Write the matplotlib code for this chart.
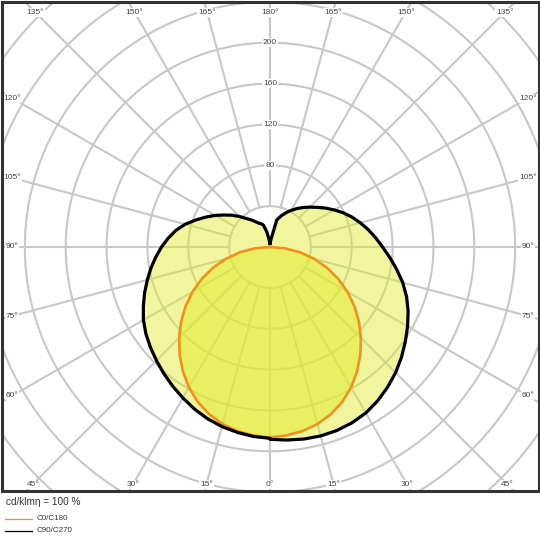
import numpy as np
import matplotlib
matplotlib.use('Agg')
import matplotlib.pyplot as plt
from matplotlib.lines import Line2D

plt.rcParams['font.family'] = ['Liberation Sans', 'DejaVu Sans']

# ---------------- data (cd/klm) ----------------
gamma_c0 = [0, 5, 10, 15, 20, 25, 30, 35, 40, 45, 50, 55, 60, 65, 70, 75, 80, 85, 90]
i_c0 = [186.5, 185.2, 183.0, 179.5, 174.2, 167.3, 158.8, 148.6, 137.6, 125.8, 113.6,
        100.8, 87.5, 73.6, 59.4, 44.8, 30.0, 15.0, 0]

gamma_c90 = [0, 5, 10, 15, 20, 25, 30, 35, 40, 45, 50, 55, 60, 65, 70, 75, 80, 85, 90,
             95, 100, 105, 110, 115, 120, 125, 130, 135, 140, 145, 150, 155, 160, 164,
             166, 168, 172, 180]
i_c90 = [188.3, 189.7, 190.9, 191.5, 191.2, 189.9, 187.6, 183.8, 179.1, 173.9, 168.0,
         161.7, 155.5, 149.2, 142.3, 134.5, 125.9, 117.7, 110.2, 103.8, 97.7, 91.5, 85.5,
         79.2, 72.6, 66.4, 60.4, 55.2, 50.5, 45.9, 41.4, 37.0, 32.6, 28.9, 27.2, 15.4,
         8.0, 3.6]

gamma_c270 = [0, 5, 10, 15, 20, 25, 30, 35, 40, 45, 50, 55, 60, 65, 70, 75, 80, 85, 90,
              95, 100, 105, 110, 115, 120, 125, 130, 135, 140, 145, 150, 155, 160, 163,
              168, 172, 180]
i_c270 = [187.3, 186.2, 184.3, 182.0, 178.9, 175.0, 170.6, 166.2, 161.7, 157.2, 152.8,
          148.3, 143.1, 136.8, 130.6, 124.3, 118.3, 112.2, 106.2, 100.0, 93.6, 86.0, 77.3,
          69.3, 61.9, 54.6, 48.4, 42.2, 36.5, 32.5, 28.7, 25.7, 24.0, 22.5, 15.4, 8.0, 3.6]

grid_radii = [40, 80, 120, 160, 200, 240, 280, 320, 360]
radius_labels = [80, 120, 160, 200]
top_angles = [135, 150, 165, 180]
side_angles = [60, 75, 90, 105, 120]
bottom_angles = [0, 15, 30, 45]
legend_labels = ['C0/C180', 'C90/C270']
unit_text = 'cd/klm\u03b7 = 100 %'

# ---------------- styles ----------------
GRID = '#c8c8c8'
FILL = '#e0ec28'
ORANGE = '#f0901e'
TXT = '#444444'

fig = plt.figure(figsize=(5.4, 5.4), dpi=100)
W = H = 540.0
ax = fig.add_axes([1.5 / W, 49.5 / H, 537 / W, 489 / H])
s = 1.0215  # px per unit
ax.set_xlim((1.5 - 270) / s, (538.5 - 270) / s)
ax.set_ylim(-(490.5 - 247) / s, (247 - 1.5) / s)
ax.set_xticks([])
ax.set_yticks([])
for sp in ax.spines.values():
    sp.set_linewidth(2.2)
    sp.set_color('#333333')
    sp.set_zorder(10)


def to_xy(g, r, side):
    th = np.radians(np.asarray(g, dtype=float))
    r = np.asarray(r, dtype=float)
    return side * r * np.sin(th), -r * np.cos(th)


# grid circles
t = np.linspace(0, 2 * np.pi, 721)
for r in grid_radii:
    ax.plot(r * np.cos(t), r * np.sin(t), color=GRID, lw=1.5, zorder=1)
# radial lines every 15 deg, from r=40 outward
for a in range(0, 360, 15):
    th = np.radians(a)
    ax.plot([40 * np.sin(th), 600 * np.sin(th)], [-40 * np.cos(th), -600 * np.cos(th)],
            color=GRID, lw=1.5, zorder=1)

# C90/C270 curve (left = C270, right = C90)
xl, yl = to_xy(gamma_c270[::-1], i_c270[::-1], -1)
xr, yr = to_xy(gamma_c90, i_c90, 1)
xb = np.concatenate([xl, xr])
yb = np.concatenate([yl, yr])
# C0/C180 curve
xo_l, yo_l = to_xy(gamma_c0[::-1], i_c0[::-1], -1)
xo_r, yo_r = to_xy(gamma_c0, i_c0, 1)
xo = np.concatenate([xo_l, xo_r])
yo = np.concatenate([yo_l, yo_r])

ax.fill(xb, yb, color=FILL, alpha=0.45, lw=0, zorder=2)
ax.fill(xo, yo, color=FILL, alpha=0.5, lw=0, zorder=2)
ax.plot(xo, yo, color=ORANGE, lw=1.9, zorder=3, solid_joinstyle='round')
ax.plot(xb, yb, color='black', lw=2.3, zorder=4, solid_joinstyle='round')

bbox = dict(boxstyle='square,pad=0.12', fc='white', ec='none')
fs = 6
# radius labels
for r in radius_labels:
    ax.text(0, r, str(r), ha='center', va='center', fontsize=fs, color=TXT, bbox=bbox, zorder=5)

# angle labels
ytop = (247 - 12) / s
for g in top_angles:
    dx = ytop * np.tan(np.radians(180 - g))
    for side in ([1] if g == 180 else [-1, 1]):
        ax.text(side * dx, ytop, f'{g}°', ha='center', va='center', fontsize=fs,
                color=TXT, bbox=bbox, zorder=5)
xside = (270 - 12) / s
for g in side_angles:
    dy = -xside / np.tan(np.radians(g))
    for side in [-1, 1]:
        ax.text(side * xside, dy, f'{g}°', ha='center', va='center', fontsize=fs,
                color=TXT, bbox=bbox, zorder=5)
ybot = -(484 - 247) / s
for g in bottom_angles:
    dx = -ybot * np.tan(np.radians(g))
    for side in ([1] if g == 0 else [-1, 1]):
        ax.text(side * dx, ybot, f'{g}°', ha='center', va='center', fontsize=fs,
                color=TXT, bbox=bbox, zorder=5)

# legend / caption below
fig.text(6 / W, 1 - 502 / H, unit_text, ha='left', va='center', fontsize=7.2, color='#333333')
leg_colors = [ORANGE, 'black']
leg_y = [519, 531]
for lab, c, yy in zip(legend_labels, leg_colors, leg_y):
    fig.add_artist(Line2D([5 / W, 32 / W], [1 - yy / H, 1 - yy / H], color=c, lw=0.9))
    fig.text(37 / W, 1 - yy / H, lab, ha='left', va='center', fontsize=5.8, color='#333333')

fig.savefig('out.png', dpi=100, facecolor='white')
